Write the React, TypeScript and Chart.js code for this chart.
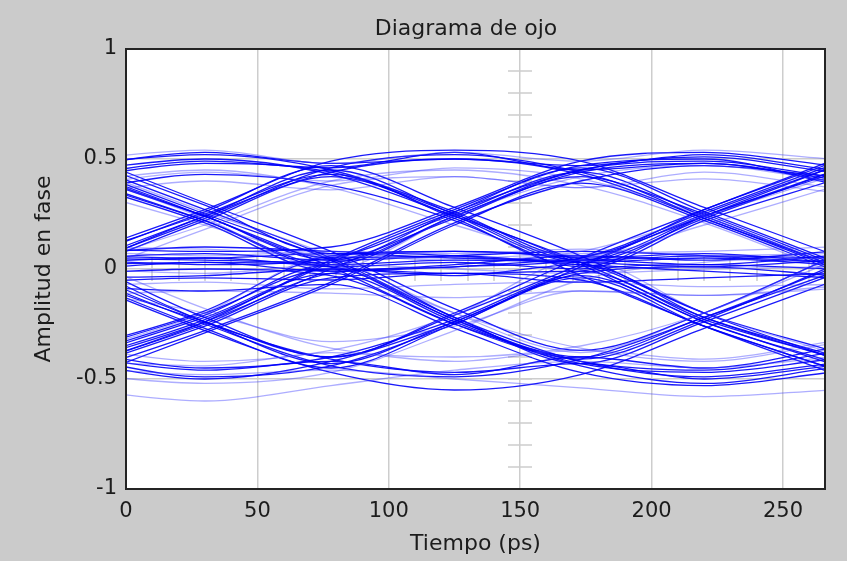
import React, { useEffect, useRef } from 'react';
import { Chart, registerables } from 'chart.js';

Chart.register(...registerables);

const TITLE = 'Diagrama de ojo';
const X_LABEL = 'Tiempo (ps)';
const Y_LABEL = 'Amplitud en fase';
const X_TICKS = [0, 50, 100, 150, 200, 250];
const Y_TICKS = [-1, -0.5, 0, 0.5, 1];
const X_MIN = 0;
const X_MAX = 266;
const Y_MIN = -1;
const Y_MAX = 1;

// Sampling instants (ps) of every trace: symbol centres and the transitions between them
const TIME = [-17, 30, 78, 125, 173, 220, 268];

// Amplitude of each captured trace at the instants in TIME
const TRACES_STRONG = [
  [0.42, 0.48, 0.44, 0.25, 0.02, -0.24, -0.42],
  [0.45, 0.24, 0.01, -0.25, -0.43, -0.47, -0.41],
  [-0.41, -0.23, 0.03, 0.26, 0.45, 0.51, 0.44],
  [0.02, 0.23, 0.46, 0.52, 0.44, 0.25, 0.03],
  [0.03, 0.05, 0.02, 0.04, 0.03, 0.01, 0.04],
  [0.47, 0.53, 0.48, 0.5, 0.43, 0.23, 0.02],
  [-0.43, -0.5, -0.42, -0.24, 0.01, 0.25, 0.46],
  [-0.03, -0.25, -0.44, -0.49, -0.41, -0.22, 0.0],
  [0.4, 0.22, 0.02, 0.24, 0.45, 0.49, 0.42],
  [-0.4, -0.22, -0.02, -0.24, -0.44, -0.52, -0.45],
  [0.05, 0.04, 0.03, 0.24, 0.44, 0.48, 0.4],
  [-0.02, 0.0, -0.03, -0.25, -0.42, -0.46, -0.38],
  [0.48, 0.52, 0.45, 0.26, 0.05, 0.07, 0.03],
  [-0.38, -0.45, -0.4, -0.23, -0.01, 0.02, 0.0],
  [0.0, 0.22, 0.42, 0.24, 0.03, -0.22, -0.4],
  [0.04, -0.22, -0.4, -0.21, 0.02, 0.24, 0.43],
  [0.44, 0.24, 0.05, 0.06, 0.03, 0.05, 0.02],
  [-0.44, -0.25, -0.02, 0.01, 0.04, 0.02, 0.06],
  [0.01, 0.24, 0.44, 0.5, 0.47, 0.52, 0.45],
  [0.02, -0.24, -0.41, -0.47, -0.43, -0.5, -0.44],
  [0.46, 0.25, 0.04, -0.23, -0.4, -0.22, -0.02],
  [-0.42, -0.24, 0.0, 0.23, 0.42, 0.23, 0.01],
  [0.43, 0.49, 0.46, 0.53, 0.45, 0.48, 0.41],
  [-0.4, -0.46, -0.42, -0.48, -0.4, -0.45, -0.36],
  [0.06, 0.05, 0.07, 0.05, 0.04, 0.24, 0.44],
  [-0.04, -0.03, 0.0, -0.02, -0.01, -0.23, -0.4],
  [0.41, 0.22, 0.01, 0.03, 0.0, 0.22, 0.4],
  [-0.45, -0.26, -0.04, -0.02, -0.05, -0.26, -0.45],
  [0.03, 0.24, 0.45, 0.25, 0.04, 0.06, 0.05],
  [-0.01, -0.24, -0.43, -0.24, -0.02, 0.01, -0.03],
  [0.45, 0.5, 0.43, 0.24, 0.03, 0.23, 0.44],
  [-0.41, -0.49, -0.44, -0.25, -0.03, -0.24, -0.43],
  [0.04, 0.02, 0.05, 0.25, 0.44, 0.24, 0.02],
  [0.02, 0.03, 0.01, -0.23, -0.41, -0.23, 0.01],
  [0.43, 0.24, 0.04, 0.26, 0.46, 0.26, 0.04],
  [-0.39, -0.21, 0.02, -0.22, -0.43, -0.24, -0.03],
  [0.48, 0.27, 0.05, -0.22, -0.42, -0.49, -0.43],
  [-0.44, -0.24, 0.04, 0.27, 0.47, 0.5, 0.39],
  [0.06, 0.25, 0.43, 0.23, 0.01, 0.24, 0.46],
  [-0.05, -0.27, -0.45, -0.25, -0.04, -0.26, -0.45],
  [0.36, 0.43, 0.38, 0.22, -0.03, -0.26, -0.47],
  [-0.47, -0.28, -0.06, 0.21, 0.4, 0.47, 0.42],
  [0.07, 0.27, 0.49, 0.54, 0.49, 0.28, 0.07],
  [-0.06, -0.28, -0.47, -0.55, -0.48, -0.27, -0.06],
  [0.5, 0.29, 0.07, 0.08, 0.06, 0.27, 0.49],
  [-0.36, -0.19, 0.06, 0.08, 0.03, -0.2, -0.37],
  [0.09, 0.08, 0.1, 0.28, 0.49, 0.53, 0.47],
  [-0.08, -0.1, -0.07, -0.27, -0.47, -0.53, -0.47],
  [0.05, 0.26, 0.47, 0.28, 0.06, -0.2, -0.4],
  [-0.05, -0.24, -0.4, -0.2, 0.05, 0.27, 0.48],
  [0.52, 0.3, 0.08, -0.18, -0.37, -0.2, 0.05],
  [-0.5, -0.29, -0.07, 0.2, 0.39, 0.22, 0.0],
  [0.0, 0.03, -0.01, 0.02, 0.06, 0.04, 0.08],
  [0.07, 0.1, 0.08, 0.06, 0.02, -0.01, -0.04],
  [-0.06, -0.04, -0.05, -0.02, -0.06, -0.04, -0.02],
  [0.05, 0.07, 0.04, 0.06, 0.08, 0.06, 0.03],
  [0.39, 0.21, -0.01, 0.01, 0.05, 0.26, 0.47],
  [-0.37, -0.2, 0.0, -0.03, 0.02, -0.22, -0.39],
];

const TRACES_FAINT = [
  [-0.55, -0.6, -0.53, -0.46, -0.42, -0.45, -0.4],
  [-0.45, -0.48, -0.46, -0.5, -0.54, -0.58, -0.55],
  [0.5, 0.54, 0.48, 0.53, 0.49, 0.54, 0.5],
  [0.38, 0.44, 0.4, 0.46, 0.41, 0.24, 0.02],
  [0.0, -0.02, 0.02, 0.0, -0.02, 0.0, 0.01],
  [0.08, 0.06, 0.08, 0.07, 0.09, 0.06, 0.07],
  [-0.08, -0.06, -0.09, -0.07, -0.06, -0.08, -0.07],
  [0.02, 0.2, 0.4, 0.45, 0.38, 0.21, -0.01],
  [-0.36, -0.42, -0.37, -0.21, 0.04, -0.2, -0.38],
  [0.36, 0.2, 0.03, -0.2, -0.36, -0.42, -0.34],
  [-0.03, 0.18, 0.38, 0.42, 0.37, 0.44, 0.37],
  [0.05, -0.18, -0.36, -0.4, -0.35, -0.2, 0.05],
  [0.4, 0.45, 0.37, 0.2, 0.06, 0.2, 0.37],
  [-0.48, -0.52, -0.47, -0.28, -0.05, 0.03, 0.05],
  [0.44, 0.23, 0.0, 0.24, 0.42, 0.47, 0.4],
  [-0.38, -0.2, 0.06, 0.04, 0.08, 0.24, 0.42],
  [0.47, 0.26, 0.06, -0.2, -0.38, -0.2, 0.03],
  [-0.42, -0.44, -0.38, -0.42, -0.37, -0.41, -0.33],
  [0.1, 0.09, 0.06, 0.05, 0.07, 0.08, 0.1],
  [-0.1, -0.2, -0.33, -0.26, -0.1, -0.12, -0.08],
  [-0.12, -0.1, -0.11, -0.13, -0.1, -0.12, -0.09],
  [0.34, 0.4, 0.36, 0.42, 0.37, 0.41, 0.35],
];

// Scope-style centre crosshair: position and minor tick spacing
const CROSS_X = 150;
const CROSS_Y = 0;
const CROSS_X_STEP = 10;
const CROSS_Y_STEP = 0.1;

const FONT = "'DejaVu Sans', 'Liberation Sans', sans-serif";
const TEXT = '#1c1c1c';
const GRID = '#cdcdcd';
const PAGE_BG = '#cbcbcb';
const TITLE_CENTER_X = 466;
const TITLE_MIDDLE_Y = 29;

export default function App() {
  const ref = useRef<HTMLCanvasElement>(null);

  useEffect(() => {
    const canvas = ref.current;
    if (!canvas) return;

    const toPoints = (vals: number[]) => TIME.map((t, i) => ({ x: t, y: vals[i] }));
    const lineStyle = {
      pointRadius: 0,
      pointHoverRadius: 0,
      fill: false,
      cubicInterpolationMode: 'monotone' as const,
    };
    const faint = TRACES_FAINT.map((v) => ({
      ...lineStyle,
      data: toPoints(v),
      borderColor: 'rgba(60,60,255,0.42)',
      borderWidth: 1.3,
    }));
    const strong = TRACES_STRONG.map((v) => ({
      ...lineStyle,
      data: toPoints(v),
      borderColor: 'rgba(0,0,250,0.9)',
      borderWidth: 1.3,
    }));

    const scopeFrame = {
      id: 'scopeFrame',
      beforeDraw(chart: any) {
        const { ctx, chartArea } = chart;
        ctx.save();
        ctx.fillStyle = '#ffffff';
        ctx.fillRect(chartArea.left, chartArea.top, chartArea.right - chartArea.left, chartArea.bottom - chartArea.top);
        // figure title, centred over the axes
        ctx.fillStyle = TEXT;
        ctx.font = `22px ${FONT}`;
        ctx.textAlign = 'center';
        ctx.textBaseline = 'middle';
        ctx.fillText(TITLE, TITLE_CENTER_X, TITLE_MIDDLE_Y);
        ctx.restore();
      },
      beforeDatasetsDraw(chart: any) {
        const { ctx, chartArea, scales } = chart;
        const xs = scales.x;
        const ys = scales.y;
        const cx = Math.round(xs.getPixelForValue(CROSS_X));
        const cy = Math.round(ys.getPixelForValue(CROSS_Y));
        ctx.save();
        ctx.strokeStyle = GRID;
        ctx.lineWidth = 1.5;
        ctx.beginPath();
        for (let v = Y_MIN + CROSS_Y_STEP; v < Y_MAX - 1e-6; v += CROSS_Y_STEP) {
          const y = Math.round(ys.getPixelForValue(v));
          ctx.moveTo(cx - 12, y);
          ctx.lineTo(cx + 12, y);
        }
        for (let t = X_MIN + CROSS_X_STEP; t < X_MAX; t += CROSS_X_STEP) {
          const x = Math.round(xs.getPixelForValue(t));
          if (x >= chartArea.right) break;
          ctx.moveTo(x, cy - 12);
          ctx.lineTo(x, cy + 12);
        }
        ctx.stroke();
        ctx.restore();
      },
      afterDatasetsDraw(chart: any) {
        const { ctx, chartArea } = chart;
        ctx.save();
        ctx.strokeStyle = '#242424';
        ctx.lineWidth = 2;
        ctx.strokeRect(chartArea.left, chartArea.top, chartArea.right - chartArea.left, chartArea.bottom - chartArea.top);
        ctx.restore();
      },
    };

    const chart = new Chart(canvas, {
      type: 'line',
      data: { datasets: [...faint, ...strong] as any },
      options: {
        responsive: false,
        animation: false,
        events: [],
        layout: { padding: { left: 0, right: 22, top: 49, bottom: 0 } },
        plugins: {
          legend: { display: false },
          tooltip: { enabled: false },
          title: { display: false },
        },
        scales: {
          x: {
            type: 'linear',
            min: X_MIN,
            max: X_MAX,
            afterBuildTicks: (s: any) => {
              s.ticks = X_TICKS.map((value) => ({ value }));
            },
            afterFit: (s: any) => {
              s.height = 72;
            },
            ticks: {
              color: TEXT,
              font: { family: FONT, size: 21 },
              padding: 10,
              maxRotation: 0,
              autoSkip: false,
              callback: (v: any) => String(v),
            },
            grid: { color: GRID, lineWidth: 1.5, drawTicks: false },
            border: { display: false },
            title: {
              display: true,
              text: X_LABEL,
              color: TEXT,
              font: { family: FONT, size: 22 },
              padding: { top: 0, bottom: 4 },
            },
          },
          y: {
            type: 'linear',
            min: Y_MIN,
            max: Y_MAX,
            afterBuildTicks: (s: any) => {
              s.ticks = Y_TICKS.map((value) => ({ value }));
            },
            afterFit: (s: any) => {
              s.width = 126;
            },
            ticks: {
              color: TEXT,
              font: { family: FONT, size: 21 },
              padding: 9,
              autoSkip: false,
              callback: (v: any) => String(v),
            },
            grid: { color: GRID, lineWidth: 1.5, drawTicks: false },
            border: { display: false },
            title: {
              display: true,
              text: Y_LABEL,
              color: TEXT,
              font: { family: FONT, size: 22 },
              padding: { top: 31, bottom: 0 },
            },
          },
        },
      } as any,
      plugins: [scopeFrame],
    });

    return () => chart.destroy();
  }, []);

  return (
    <div style={{ position: 'fixed', left: 0, top: 0, width: 847, height: 561, background: PAGE_BG }}>
      <canvas ref={ref} width={847} height={561} style={{ display: 'block' }} />
    </div>
  );
}
